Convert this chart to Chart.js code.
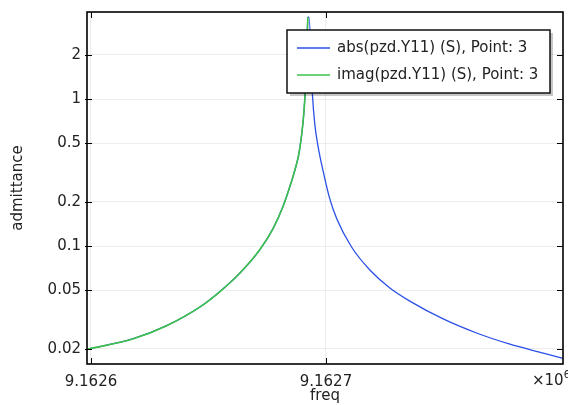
<!DOCTYPE html>
<html>
<head>
<meta charset="utf-8">
<script src="https://cdn.jsdelivr.net/npm/chart.js@4.4.0/dist/chart.umd.min.js"></script>
<style>
  html, body { margin: 0; padding: 0; background: #fff; }
</style>
</head>
<body>
<canvas id="chart" width="568" height="405"></canvas>
<script>
// series (freq in Hz, admittance in S)
const seriesLabels = ['abs(pzd.Y11) (S), Point: 3', 'imag(pzd.Y11) (S), Point: 3'];

// imag part is positive only below resonance (log axis drops the rest)
const freqImag = [9162598.3, 9162618.0, 9162632.2, 9162646.4, 9162654.9, 9162663.4,
                  9162671.9, 9162677.6, 9162681.8, 9162685.4, 9162686.8, 9162688.9,
                  9162691.1, 9162691.9, 9162692.3];
const imagValues = [0.0198, 0.0234, 0.0287, 0.0385, 0.0490, 0.0655,
                    0.0946, 0.1324, 0.187, 0.277, 0.329, 0.465,
                    1.06, 2.33, 3.6];

// abs follows imag below resonance, then falls off above it
const freqAbs = freqImag.concat([9162692.8, 9162694.2, 9162695.3, 9162696.7, 9162698.9, 9162701.4,
                                 9162704.6, 9162710.9, 9162718.7, 9162727.2, 9162735.7, 9162749.9,
                                 9162764.1, 9162778.3, 9162792.5, 9162800.9]);
const absValues = imagValues.concat([3.6, 1.1, 0.665, 0.471, 0.318, 0.216,
                                     0.153, 0.0985, 0.0687, 0.0518, 0.0422, 0.0319,
                                     0.0256, 0.0215, 0.0187, 0.0172]);

const xTicks = [9162600, 9162700];
const yTicks = [0.02, 0.05, 0.1, 0.2, 0.5, 1, 2];
const xRange = [9162598.3, 9162800.9];
const yRange = [0.01575, 3.91];

const FONT = 'DejaVu Sans';
const TEXT = '#222';

const toPoints = (xs, ys) => xs.map((x, i) => ({ x: x, y: ys[i] }));

// frame, inward tick marks, the x10^6 multiplier and the boxed legend
const decorations = {
  id: 'decorations',
  afterDraw(chart) {
    const { ctx, chartArea: a, scales: { x, y } } = chart;
    ctx.save();

    ctx.strokeStyle = '#000';
    ctx.lineWidth = 1;
    xTicks.forEach(v => {
      const px = Math.round(x.getPixelForValue(v)) + 0.5;
      ctx.beginPath();
      ctx.moveTo(px, a.bottom); ctx.lineTo(px, a.bottom - 6);
      ctx.moveTo(px, a.top); ctx.lineTo(px, a.top + 6);
      ctx.stroke();
    });
    yTicks.forEach(v => {
      const py = Math.round(y.getPixelForValue(v)) + 0.5;
      ctx.beginPath();
      ctx.moveTo(a.left - 2, py); ctx.lineTo(a.left + 5, py);
      ctx.moveTo(a.right, py); ctx.lineTo(a.right - 6, py);
      ctx.stroke();
    });

    ctx.lineWidth = 1.6;
    ctx.strokeRect(a.left, a.top, a.right - a.left, a.bottom - a.top);

    // multiplier at the right end of the x axis
    ctx.fillStyle = TEXT;
    ctx.textBaseline = 'middle';
    ctx.textAlign = 'left';
    ctx.font = '15px "' + FONT + '"';
    const mx = a.right - 31;
    ctx.fillText('\u00d710', mx, a.bottom + 17);
    const w = ctx.measureText('\u00d710').width;
    ctx.font = '10px "' + FONT + '"';
    ctx.fillText('6', mx + w, a.bottom + 11);

    // legend box with soft shadow
    const bx = a.right - 276, by = a.top + 18, bw = 263, bh = 63;
    ctx.fillStyle = 'rgba(0,0,0,0.22)';
    ctx.fillRect(bx + 3, by + 3, bw, bh);
    ctx.fillStyle = '#fff';
    ctx.fillRect(bx, by, bw, bh);
    ctx.lineWidth = 1.5;
    ctx.strokeStyle = '#111';
    ctx.strokeRect(bx, by, bw, bh);

    ctx.font = '15px "' + FONT + '"';
    chart.data.datasets.forEach((ds, i) => {
      const ry = by + 18 + i * 27;
      ctx.strokeStyle = ds.borderColor;
      ctx.lineWidth = 1.6;
      ctx.beginPath();
      ctx.moveTo(bx + 10, ry); ctx.lineTo(bx + 43, ry);
      ctx.stroke();
      ctx.fillStyle = TEXT;
      ctx.fillText(ds.label, bx + 50, ry);
    });

    ctx.restore();
  }
};

new Chart(document.getElementById('chart'), {
  type: 'line',
  data: {
    datasets: [
      {
        label: seriesLabels[0],
        data: toPoints(freqAbs, absValues),
        borderColor: '#2b50e6',
        borderWidth: 1.3,
        pointRadius: 0,
        cubicInterpolationMode: 'monotone',
        order: 1
      },
      {
        label: seriesLabels[1],
        data: toPoints(freqImag, imagValues),
        borderColor: '#3cc24a',
        borderWidth: 1.6,
        pointRadius: 0,
        cubicInterpolationMode: 'monotone',
        order: 0
      }
    ]
  },
  options: {
    responsive: false,
    animation: false,
    devicePixelRatio: 1,
    layout: { padding: { left: 0, top: 12, right: 5, bottom: 0 } },
    plugins: { legend: { display: false }, tooltip: { enabled: false } },
    scales: {
      x: {
        type: 'linear',
        min: xRange[0],
        max: xRange[1],
        afterBuildTicks: s => { s.ticks = xTicks.map(v => ({ value: v })); },
        afterFit: s => { s.height = 41; s.paddingLeft = 0; s.paddingRight = 0; },
        grid: { color: '#ededed', drawTicks: false },
        border: { display: false },
        ticks: {
          padding: 9,
          color: TEXT,
          font: { family: FONT, size: 15 },
          maxRotation: 0,
          callback: v => (v / 1e6).toFixed(4)
        },
        title: {
          display: true,
          text: 'freq',
          color: TEXT,
          font: { family: FONT, size: 15 },
          padding: { top: 0, bottom: 0 }
        }
      },
      y: {
        type: 'logarithmic',
        min: yRange[0],
        max: yRange[1],
        afterBuildTicks: s => { s.ticks = yTicks.map(v => ({ value: v })); },
        afterFit: s => { s.width = 87; s.paddingTop = 0; s.paddingBottom = 0; },
        grid: { color: '#ededed', drawTicks: false },
        border: { display: false },
        ticks: {
          padding: 6,
          color: TEXT,
          font: { family: FONT, size: 15 },
          autoSkip: false,
          callback: v => String(v)
        },
        title: {
          display: true,
          text: 'admittance',
          color: TEXT,
          font: { family: FONT, size: 15 },
          padding: { top: 9, bottom: 0 }
        }
      }
    }
  },
  plugins: [decorations]
});
</script>
</body>
</html>
